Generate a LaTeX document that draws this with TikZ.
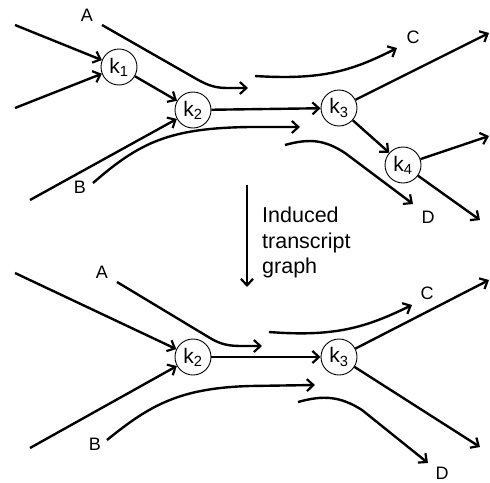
\documentclass[tikz,border=0pt]{standalone}
\usepackage{fontspec}
\setmainfont{Liberation Sans}
\usetikzlibrary{arrows.meta}
\tikzset{
  kmer/.style={circle,draw,line width=0.9pt,minimum size=36pt,inner sep=0pt,font=\fontsize{21}{21}\selectfont},
  path/.style={line width=2.4pt,-{Straight Barb[length=6.5pt,width=12pt,line width=2.2pt]}},
  lab/.style={font=\fontsize{18}{18}\selectfont,inner sep=0pt},
}
\begin{document}
\begin{tikzpicture}[x=1pt,y=-1pt]
\useasboundingbox (0,0) rectangle (490,482);
% ---------- top graph ----------
\node[kmer] (k1) at (119,67) {k\textsubscript{1}};
\node[kmer] (k2) at (193,110) {k\textsubscript{2}};
\node[kmer] (k3) at (339,108) {k\textsubscript{3}};
\node[kmer] (k4) at (403,165) {k\textsubscript{4}};
\coordinate (i1) at (15,25);
\coordinate (i2) at (15,108);
\coordinate (i3) at (30,200);
\coordinate (o1) at (489,33);
\coordinate (o2) at (489,136);
\coordinate (o3) at (480,220);
\draw[path] (i1) -- (k1);
\draw[path] (i2) -- (k1);
\draw[path] (k1) -- (k2);
\draw[path] (i3) -- (k2);
\draw[path] (k2) -- (k3);
\draw[path] (k3) -- (k4);
\draw[path] (k3) -- (o1);
\draw[path] (k4) -- (o2);
\draw[path] (k4) -- (o3);
\node[lab] (A) at (87,15) {A};
\node[lab] (B) at (80,187) {B};
\node[lab] (C) at (413,37) {C};
\node[lab] (D) at (428,217) {D};
\coordinate (As) at (102,25);
\coordinate (Ae) at (248,88);
\coordinate (Bs) at (93,183);
\coordinate (Be) at (300,127);
\coordinate (Cs) at (255,76);
\coordinate (Ce) at (397,48);
\coordinate (Ds) at (285,145);
\coordinate (De) at (413,204);
\draw[path] (As) -- (193,77) to[out=-30,in=180] (227,88) -- (Ae);
\draw[path] (Bs) .. controls (140,142) and (170,128) .. (250,127) -- (Be);
\draw[path] (Cs) .. controls (320,80) and (350,72) .. (Ce);
\draw[path] (Ds) .. controls (310,138) and (325,140) .. (345,153) -- (De);
% ---------- middle arrow ----------
\coordinate (m1) at (247,185);
\coordinate (m2) at (247,287);
\draw[path] (m1) -- (m2);
\node[anchor=north west,inner sep=0pt,align=left,font=\fontsize{21.5}{25.5}\selectfont] (txt) at (262,207) {Induced\\transcript\\graph};
% ---------- bottom graph ----------
\node[kmer] (b2) at (193,357) {k\textsubscript{2}};
\node[kmer] (b3) at (339,357) {k\textsubscript{3}};
\coordinate (j1) at (15,273);
\coordinate (j2) at (30,448);
\coordinate (p1) at (489,280);
\coordinate (p2) at (480,447);
\draw[path] (j1) -- (b2);
\draw[path] (j2) -- (b2);
\draw[path] (b2) -- (b3);
\draw[path] (b3) -- (p1);
\draw[path] (b3) -- (p2);
\node[lab] (A2) at (102,272) {A};
\node[lab] (B2) at (95,444) {B};
\node[lab] (C2) at (427,293) {C};
\node[lab] (D2) at (442,473) {D};
\coordinate (As2) at (117,282);
\coordinate (Ae2) at (262,346);
\coordinate (Bs2) at (107,440);
\coordinate (Be2) at (315,385);
\coordinate (Cs2) at (269,332);
\coordinate (Ce2) at (412,305);
\coordinate (Ds2) at (298,402);
\coordinate (De2) at (428,463);
\draw[path] (As2) -- (210,338) to[out=-31,in=180] (242,346) -- (Ae2);
\draw[path] (Bs2) .. controls (150,405) and (180,388) .. (250,386) -- (Be2);
\draw[path] (Cs2) .. controls (334,337) and (365,328) .. (Ce2);
\draw[path] (Ds2) .. controls (323,395) and (340,396) .. (362,410) -- (De2);
\end{tikzpicture}
\end{document}
